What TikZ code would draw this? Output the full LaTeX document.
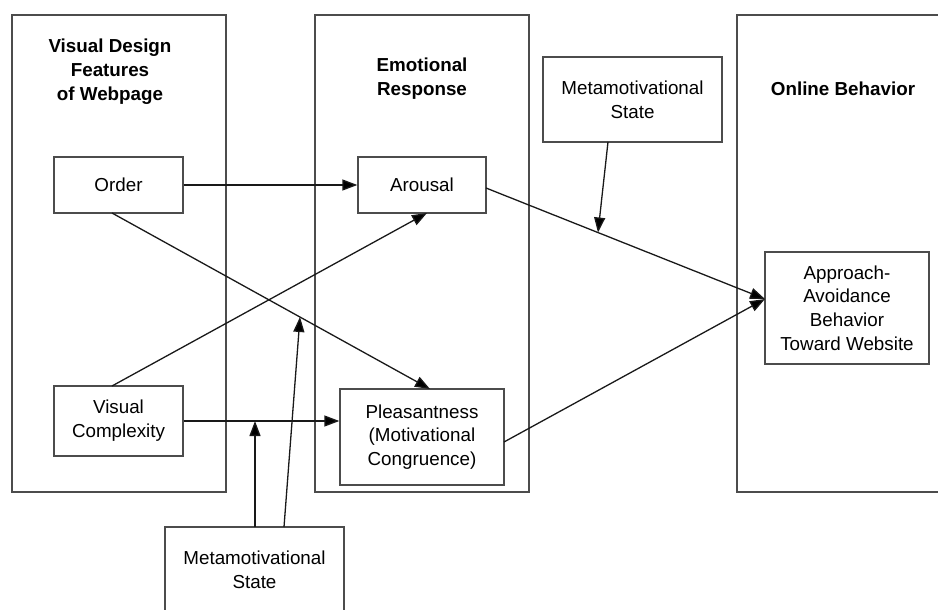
\documentclass[tikz,border=0pt]{standalone}
\usepackage{fontspec}
\setmainfont{Liberation Sans}
\usetikzlibrary{arrows.meta}
\begin{document}
\begin{tikzpicture}[x=1pt,y=-1pt,
  every node/.style={font=\fontsize{18.8}{23.8}\selectfont, align=center},
  panel/.style={draw=black!70, line width=1.3pt},
  box/.style={draw=black!70, line width=1.3pt, rectangle, inner sep=0pt},
  title/.style={font=\fontsize{18.8}{24}\selectfont\bfseries, align=center},
  arr/.style={draw=black!90, line width=1.3pt, -{Triangle[length=15pt,width=11pt,fill=black]}}]
\useasboundingbox (0,0) rectangle (938,610);
% panels
\draw[panel] (12,15) rectangle (226,492);
\draw[panel] (315,15) rectangle (529,492);
\draw[panel] (737,15) rectangle (945,492);
% titles
\node[title] (t1) at (110,72) {Visual Design\\Features\\of Webpage};
\node[title] (t2) at (422,79) {Emotional\\Response};
\node[title] (t3) at (843,89) {Online Behavior};
% boxes
\node[box, minimum width=129, minimum height=56] (order) at (118.5,185) {Order};
\node[box, minimum width=129, minimum height=70] (vc) at (118.5,421) {Visual\\Complexity};
\node[box, minimum width=128, minimum height=56] (arousal) at (422,185) {Arousal};
\node[box, minimum width=164, minimum height=96] (pleas) at (422,437) {Pleasantness\\(Motivational\\Congruence)};
\node[box, minimum width=179, minimum height=85] (meta1) at (632.5,99.5) {Metamotivational\\State};
\node[box, minimum width=164, minimum height=112] (appr) at (847,308) {Approach-\\Avoidance\\Behavior\\Toward Website};
\draw[box] (165,612) -- (165,527) -- (344,527) -- (344,612);
\node (meta2) at (254.5,570) {Metamotivational\\State};
% coordinates
\coordinate (o1) at (112,213);
\coordinate (p1) at (430,389);
\coordinate (v1) at (112,386);
\coordinate (a1) at (427,213);
\coordinate (a2) at (486,188);
\coordinate (ap) at (765,299);
\coordinate (p2) at (504,442);
\coordinate (m1) at (608,142);
\coordinate (m1e) at (598,232.5);
\coordinate (b1) at (255,527);
\coordinate (b1e) at (255,421);
\coordinate (b2) at (284,527);
\coordinate (b2e) at (300,317);
% connectors
\draw[arr] (order.east) -- (arousal.west);
\draw[arr] (vc.east) -- (pleas.west |- vc.east);
\draw[arr] (o1) -- (p1);
\draw[arr] (v1) -- (a1);
\draw[arr] (a2) -- (ap);
\draw[arr] (p2) -- (ap);
\draw[arr] (m1) -- (m1e);
\draw[arr] (b1) -- (b1e);
\draw[arr] (b2) -- (b2e);
\end{tikzpicture}
\end{document}
